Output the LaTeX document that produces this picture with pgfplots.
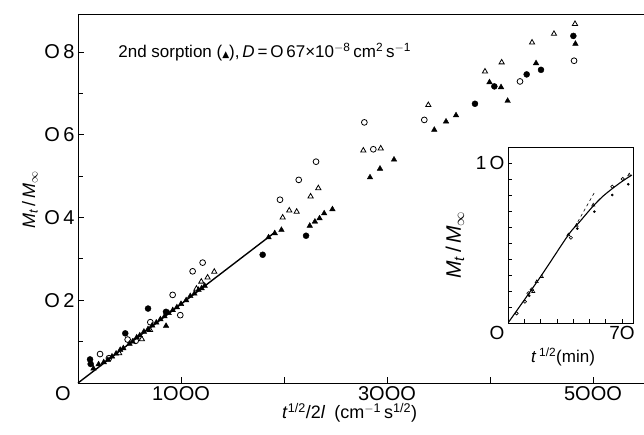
\documentclass[border=0pt]{standalone}
\usepackage{pgfplots}
\pgfplotsset{compat=1.18}
\usepackage{fontspec}
\setmainfont{Liberation Sans}
\newfontfamily\symfont{DejaVu Sans}

\pgfplotstableread{
x y
150 0.035
200 0.045
250 0.050
290 0.056
330 0.064
370 0.071
410 0.080
440 0.084
500 0.095
530 0.100
570 0.110
600 0.115
640 0.124
680 0.130
720 0.139
760 0.146
800 0.154
840 0.161
855 0.138
880 0.169
920 0.176
960 0.183
1000 0.191
1050 0.200
1090 0.210
1130 0.216
1170 0.225
1200 0.229
1230 0.235
1850 0.352
1910 0.362
1975 0.370
2250 0.380
2300 0.390
2345 0.398
2390 0.410
2470 0.420
2835 0.497
2932 0.518
3068 0.540
3459 0.612
3573 0.632
3670 0.647
3995 0.727
4107 0.715
4171 0.682
4447 0.773
4829 0.820
}\filledtri

\pgfplotstableread{
x y
400 0.072
620 0.106
700 0.128
1150 0.228
1197 0.245
1258 0.255
1323 0.269
1987 0.400
2051 0.417
2123 0.414
2258 0.451
2333 0.471
2770 0.562
2939 0.567
3401 0.672
3951 0.753
4113 0.775
4408 0.823
4621 0.844
4825 0.868
}\opentri

\pgfplotstableread{
x y
214 0.070
300 0.060
482 0.105
560 0.102
702 0.147
919 0.213
993 0.164
1113 0.270
1210 0.291
1961 0.443
2143 0.491
2311 0.535
2780 0.630
2867 0.565
3362 0.636
4291 0.729
4816 0.779
}\opencirc

\pgfplotstableread{
x y
117 0.057
123 0.046
459 0.120
680 0.180
854 0.172
1793 0.310
2214 0.356
3854 0.675
4042 0.717
4356 0.746
4495 0.757
4809 0.839
}\filledcirc

\pgfplotstableread{
x y
0 0
20 0.29
37 0.55
44 0.633
52 0.728
58 0.790
64 0.840
70 0.885
76 0.925
}\insetcurve

\begin{document}
\begin{tikzpicture}
\begin{axis}[
  scale only axis, width=566pt, height=369pt,
  at={(0pt,0pt)}, anchor=south west,
  xmin=0, xmax=5495, ymin=0, ymax=0.892,
  axis lines=left, axis line style={-, line width=0.9pt},
  tick align=inside, major tick length=6pt, minor tick length=5pt,
  tick style={line width=0.8pt, black},
  xtick={1000,2000,3000,4000,5000}, xticklabels={1OOO,,3OOO,,5OOO},
  ytick={0.2,0.4,0.6,0.8}, yticklabels={O\,2,O\,4,O\,6,O\,8},
  minor ytick={0.1,0.3,0.5,0.7},
  extra x ticks={0}, extra x tick labels={O},
  extra x tick style={major tick length=0pt, xticklabel style={xshift=-15pt}},
  ticklabel style={font=\fontsize{20}{24}\selectfont},
  xlabel={\textit{t}\textsuperscript{1/2}/2\textit{l}\enspace(cm\textsuperscript{$-$1}\,s\textsuperscript{1/2})},
  ylabel={\textit{M}\textsubscript{\textit{t}}\,/\,\textit{M}\textsubscript{$\infty$}},
  every axis x label/.style={at={(axis description cs:0.48,-0.081)}, anchor=center, font=\fontsize{18}{22}\selectfont},
  every axis y label/.style={at={(axis description cs:-0.085,0.496)}, rotate=90, anchor=center, font=\fontsize{18}{22}\selectfont},
  clip=false,
]
\draw[line width=0.9pt] (rel axis cs:0,1) -- (rel axis cs:1,1);
\addplot[black, line width=1.4pt, no marks] coordinates {(0,0) (1915,0.365)};
\addplot[only marks, mark=triangle*, mark size=3.2pt, mark options={fill=black, draw=black}] table {\filledtri};
\addplot[only marks, mark=triangle, mark size=3pt, mark options={draw=black, line width=0.8pt}] table {\opentri};
\addplot[only marks, mark=o, mark size=2.9pt, mark options={draw=black, line width=0.8pt}] table {\opencirc};
\addplot[only marks, mark=*, mark size=3pt, mark options={fill=black, draw=black}] table {\filledcirc};
\node[anchor=west, font=\fontsize{17}{20}\selectfont, inner sep=0pt] at (axis cs:390,0.80)
  {2nd sorption ({\symfont\fontsize{9}{10}\selectfont ▲}),\,\textit{D}\,=\,O\,67×10\textsuperscript{$-$8}\,cm\textsuperscript{2}\,s\textsuperscript{$-$1}};
\end{axis}

\begin{axis}[
  scale only axis, width=125pt, height=176pt,
  at={(430pt,60pt)}, anchor=south west,
  xmin=0, xmax=76.7, ymin=0, ymax=1.1,
  axis background/.style={fill=white},
  axis line style={line width=0.9pt},
  tick align=inside, major tick length=4pt, minor tick length=4pt,
  tick style={line width=0.7pt, black},
  xtick={70}, xticklabels={7O}, minor xtick={10,20,30,40,50,60},
  ytick={1}, yticklabels={1\,O}, minor ytick={0.1,0.2,0.3,0.4,0.5,0.6,0.7,0.8,0.9},
  extra x ticks={0}, extra x tick labels={O},
  extra x tick style={major tick length=0pt, xticklabel style={xshift=-11pt}},
  xtick pos=bottom, ytick pos=left,
  ticklabel style={font=\fontsize{19}{22}\selectfont},
  xlabel={\textit{t}\,\textsuperscript{1/2}(min)},
  ylabel={\textit{M}\textsubscript{\textit{t}}\,/\,\textit{M}\textsubscript{$\infty$}},
  every axis x label/.style={at={(axis description cs:0.44,-0.193)}, anchor=center, font=\fontsize{17}{20}\selectfont},
  every axis y label/.style={at={(axis description cs:-0.424,0.443)}, rotate=90, anchor=center, font=\fontsize{21}{24}\selectfont},
]
\addplot[black, line width=1.1pt, no marks, smooth] table {\insetcurve};
\addplot[black, dashed, line width=0.6pt, no marks] coordinates {(41,0.60) (53,0.815)};
\addplot[only marks, mark=o, mark size=1.6pt, mark options={draw=black, line width=0.6pt}] coordinates {
(5.3,0.06) (10.4,0.133) (12.5,0.186) (14.5,0.21) (38.6,0.533) (64,0.852) (70.4,0.90)};
\addplot[only marks, mark=triangle, mark size=1.8pt, mark options={draw=black, line width=0.6pt}] coordinates {
(15.5,0.196) (17.6,0.258) (20.7,0.29) (37,0.55) (42.1,0.61) (52.3,0.737) (74.4,0.925)};
\addplot[only marks, mark=*, mark size=1.1pt, mark options={fill=black, draw=black}] coordinates {
(42.5,0.59) (53,0.696) (64,0.80) (73.8,0.867) (13,0.17)};
\end{axis}

\pgfresetboundingbox
\path (-78pt,-51pt) rectangle (566pt,383pt);
\end{tikzpicture}
\end{document}
